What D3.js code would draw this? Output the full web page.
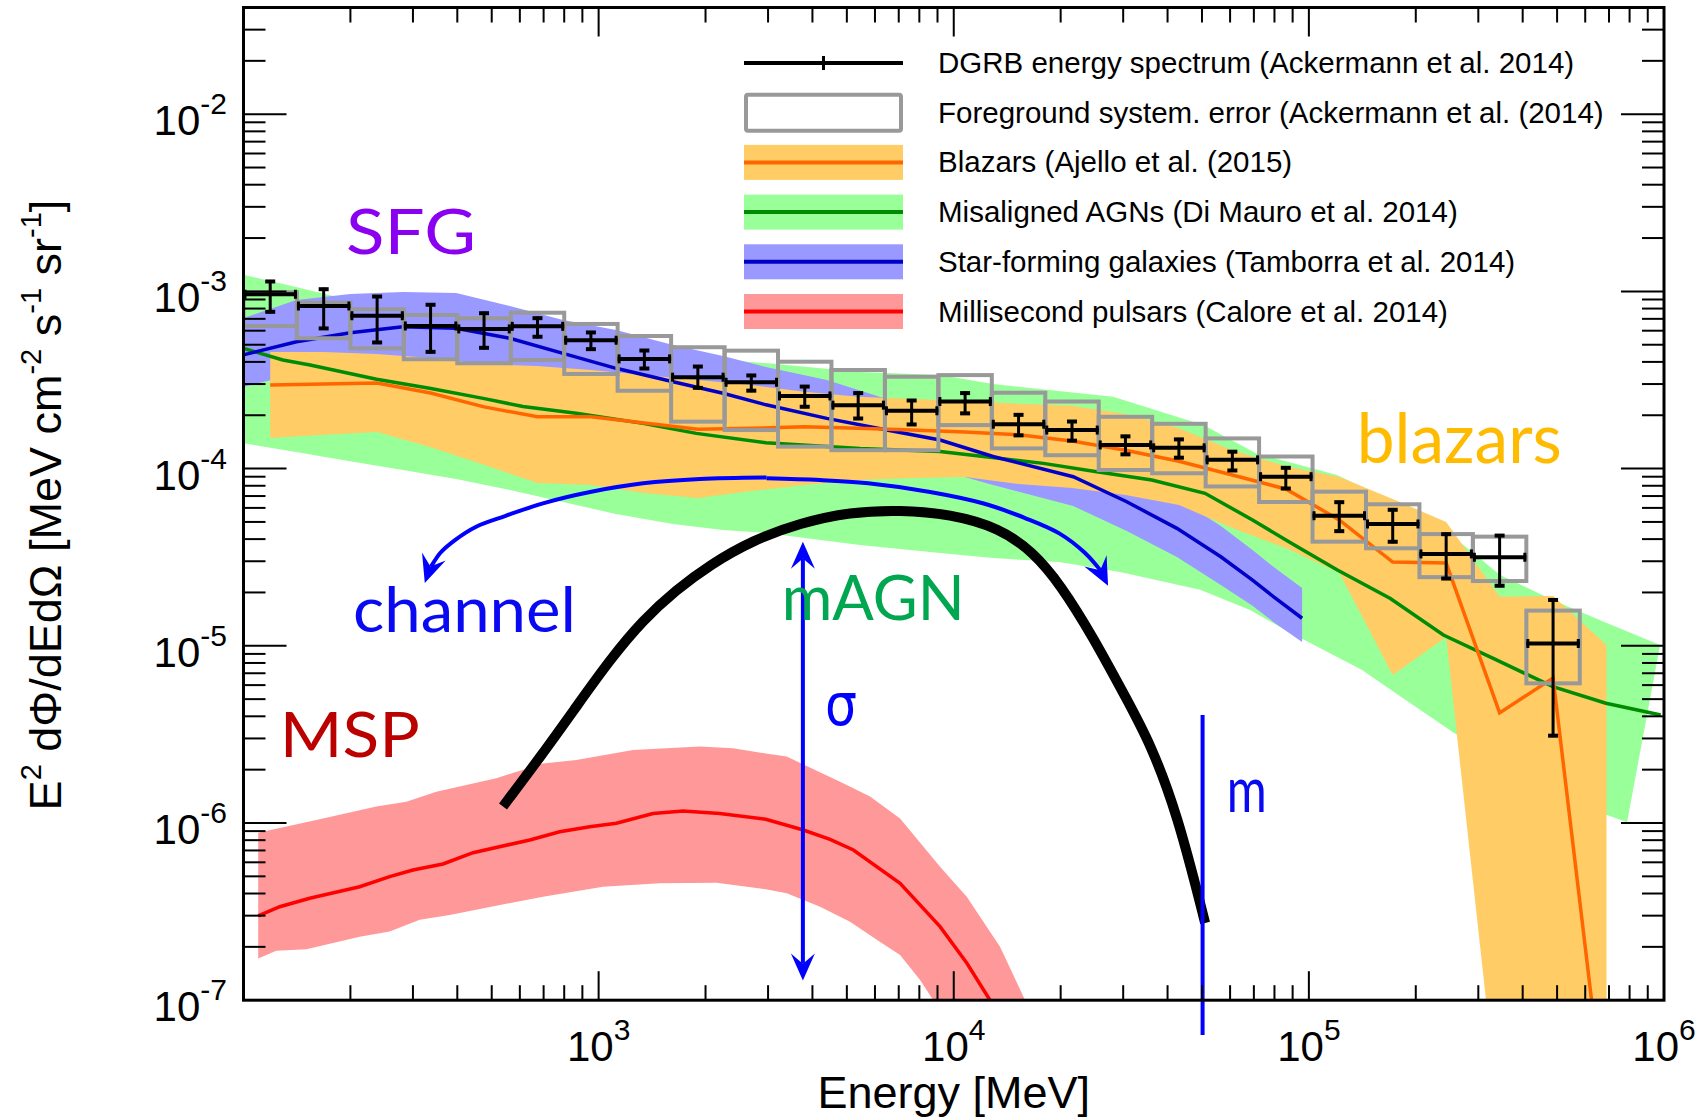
<!DOCTYPE html>
<html><head><meta charset="utf-8">
<script src="https://cdn.jsdelivr.net/npm/d3@7"></script>
<style>
html,body{margin:0;padding:0;background:#fff;}
svg{display:block;}
</style></head><body>
<svg id="chart" width="1704" height="1120"></svg>
<script>
// ---------- DGRB measurement (energy bins in MeV, intensities in MeV cm^-2 s^-1 sr^-1) ----------
const binEdges = [100, 141.4, 200, 282.8, 400, 565.7, 800, 1131, 1600, 2263, 3200, 4525, 6400, 9051,
  12800, 18102, 25600, 36204, 51200, 72408, 102400, 144815, 204800, 289631, 409600, 579262];
const dgrb   = [9.63e-4, 8.27e-4, 7.29e-4, 6.38e-4, 6.14e-4, 6.35e-4, 5.30e-4, 4.16e-4, 3.28e-4, 3.07e-4,
  2.57e-4, 2.28e-4, 2.12e-4, 2.39e-4, 1.78e-4, 1.65e-4, 1.36e-4, 1.31e-4, 1.12e-4, 9.00e-5,
  5.42e-5, 4.87e-5, 3.30e-5, 3.16e-5, 1.03e-5];
const dgrbHi = [1.16e-3, 1.049e-3, 9.54e-4, 8.57e-4, 7.68e-4, 7.20e-4, 5.98e-4, 4.73e-4, 3.84e-4, 3.42e-4,
  2.96e-4, 2.72e-4, 2.47e-4, 2.72e-4, 2.05e-4, 1.88e-4, 1.55e-4, 1.49e-4, 1.27e-4, 1.03e-4,
  6.59e-5, 5.97e-5, 4.35e-5, 4.27e-5, 1.85e-5];
const dgrbLo = [7.52e-4, 6.06e-4, 5.05e-4, 4.47e-4, 4.71e-4, 5.44e-4, 4.63e-4, 3.60e-4, 2.80e-4, 2.70e-4,
  2.19e-4, 1.88e-4, 1.74e-4, 2.01e-4, 1.51e-4, 1.41e-4, 1.18e-4, 1.13e-4, 9.57e-5, 7.57e-5,
  4.35e-5, 3.79e-5, 2.35e-5, 2.14e-5, 3.05e-6];
// foreground systematic envelope
const sysHi = [9.88e-4, 8.63e-4, 7.93e-4, 7.36e-4, 7.05e-4, 7.58e-4, 6.55e-4, 5.60e-4, 4.84e-4, 4.63e-4,
  4.01e-4, 3.60e-4, 3.30e-4, 3.37e-4, 2.68e-4, 2.39e-4, 1.96e-4, 1.79e-4, 1.48e-4, 1.17e-4,
  7.41e-5, 6.29e-5, 4.27e-5, 4.13e-5, 1.58e-5];
const sysLo = [6.38e-4, 5.44e-4, 4.77e-4, 4.14e-4, 3.93e-4, 4.10e-4, 3.42e-4, 2.75e-4, 1.84e-4, 1.65e-4,
  1.33e-4, 1.27e-4, 1.27e-4, 1.76e-4, 1.30e-4, 1.19e-4, 9.82e-5, 9.41e-5, 7.93e-5, 6.48e-5,
  3.87e-5, 3.55e-5, 2.44e-5, 2.32e-5, 6.14e-6];

// ---------- Blazars ----------
const blazarE  = [118.9, 168.2, 237.8, 336.4, 475.7, 672.7, 951.4, 1345, 1903, 2691, 3805, 5382, 7611,
  10764, 15222, 21527, 30444, 43054, 60888, 86108, 121776, 172216, 243551, 344432, 487103, 688862];
const blazar   = [2.96e-4, 3.00e-4, 3.04e-4, 2.67e-4, 2.23e-4, 1.96e-4, 1.96e-4, 1.81e-4, 1.67e-4, 1.69e-4,
  1.72e-4, 1.69e-4, 1.65e-4, 1.61e-4, 1.55e-4, 1.43e-4, 1.27e-4, 1.10e-4, 9.20e-5, 7.67e-5,
  5.13e-5, 2.97e-5, 2.93e-5, 4.18e-6, 6.58e-6, 1.98e-8];
const blazarHi = [4.55e-4, 4.55e-4, 4.43e-4, 4.21e-4, 3.89e-4, 3.79e-4, 3.60e-4, 3.37e-4, 3.16e-4, 2.96e-4,
  2.71e-4, 2.54e-4, 2.47e-4, 2.41e-4, 2.32e-4, 2.26e-4, 2.03e-4, 1.69e-4, 1.27e-4, 1.03e-4,
  8.97e-5, 6.74e-5, 5.00e-5, 1.89e-5, 1.91e-5, 1.01e-5];
const blazarLo = [1.49e-4, 1.55e-4, 1.61e-4, 1.32e-4, 1.05e-4, 8.29e-5, 8.08e-5, 7.28e-5, 6.83e-5, 7.47e-5,
  8.08e-5, 8.62e-5, 8.85e-5, 8.97e-5, 8.19e-5, 7.77e-5, 7.10e-5, 6.23e-5, 4.62e-5, 3.56e-5,
  2.58e-5, 6.84e-6, 1.12e-5, 2.0e-8, 1.0e-8, 1.0e-8];

// ---------- Misaligned AGNs ----------
const agnE  = [100, 129, 154, 237, 334, 473, 612, 865, 1334, 1884, 2955, 5446, 9150, 17880, 25270, 36100,
  51000, 69400, 89300, 120300, 169600, 239200, 337300, 486600, 686200, 979000];
const agn   = [4.77e-4, 4.10e-4, 3.84e-4, 3.19e-4, 2.84e-4, 2.49e-4, 2.24e-4, 2.05e-4, 1.80e-4, 1.58e-4,
  1.40e-4, 1.30e-4, 1.25e-4, 1.07e-4, 9.60e-5, 8.62e-5, 7.25e-5, 5.13e-5, 3.79e-5, 2.68e-5,
  1.85e-5, 1.15e-5, 8.32e-6, 5.88e-6, 4.74e-6, 4.07e-6];
const agnHiE = [100, 140.5, 199.5, 281, 397, 563, 794, 1119, 1620, 2240, 2960, 5446, 9150, 12900, 28100,
  50400, 71000, 120000, 169300, 241800, 345500, 487500, 687300, 975000];
const agnHi  = [1.24e-3, 1.06e-3, 8.94e-4, 7.85e-4, 6.90e-4, 6.06e-4, 5.32e-4, 4.79e-4, 4.38e-4, 4.10e-4,
  3.94e-4, 3.51e-4, 3.37e-4, 3.00e-4, 2.54e-4, 1.76e-4, 1.22e-4, 9.20e-5, 6.65e-5, 4.50e-5,
  2.51e-5, 1.81e-5, 1.35e-5, 1.01e-5];
const agnLoE = [100, 140.5, 199.5, 281, 397, 563, 794, 1119, 1620, 2240, 2960, 5446, 9150, 12900, 19800,
  29400, 49400, 68300, 89100, 141200, 170400, 256400, 396000, 580200, 787000];
const agnLo  = [1.39e-4, 1.24e-4, 1.10e-4, 9.82e-5, 8.74e-5, 7.57e-5, 6.48e-5, 5.54e-5, 4.87e-5, 4.50e-5,
  4.33e-5, 3.71e-5, 3.34e-5, 3.13e-5, 2.97e-5, 2.61e-5, 2.07e-5, 1.59e-5, 1.18e-5, 7.30e-6,
  5.63e-6, 3.22e-6, 1.94e-6, 1.26e-6, 1.01e-6];

// ---------- Star-forming galaxies ----------
const sfgE  = [100, 141, 200, 281, 397, 562, 794, 1120, 1620, 2240, 2960, 4390, 6480, 9150, 12900, 21700,
  30700, 42500, 56500, 69400, 79600, 95700];
const sfg   = [4.38e-4, 5.20e-4, 5.85e-4, 6.32e-4, 6.19e-4, 5.44e-4, 4.47e-4, 3.68e-4, 3.09e-4, 2.66e-4,
  2.29e-4, 1.92e-4, 1.65e-4, 1.45e-4, 1.17e-4, 9.0e-5, 6.5e-5, 4.6e-5, 3.18e-5, 2.35e-5, 1.89e-5, 1.43e-5];
const sfgHi = [7.08e-4, 8.94e-4, 9.67e-4, 9.92e-4, 9.80e-4, 8.27e-4, 6.90e-4, 6.06e-4, 4.98e-4, 4.32e-4,
  3.74e-4, 3.16e-4, 2.47e-4, 2.17e-4, 1.74e-4, 1.34e-4, 9.69e-5, 6.83e-5, 4.74e-5, 3.47e-5, 2.78e-5, 2.12e-5];
const sfgLo = [2.89e-4, 3.43e-4, 3.86e-4, 4.17e-4, 4.09e-4, 3.59e-4, 2.95e-4, 2.43e-4, 2.04e-4, 1.76e-4,
  1.51e-4, 1.27e-4, 1.10e-4, 9.82e-5, 8.08e-5, 6.15e-5, 4.44e-5, 3.17e-5, 2.20e-5, 1.68e-5, 1.36e-5, 1.05e-5];

// ---------- Millisecond pulsars ----------
const mspE  = [110, 126.5, 153.6, 212.4, 258, 300, 364.6, 443, 640, 777, 944, 1122, 1423, 1729, 2193, 2955,
  3771, 4484, 5217, 7061, 9150, 10880, 12650, 14330];
const msp   = [2.99e-7, 3.37e-7, 3.76e-7, 4.37e-7, 4.98e-7, 5.43e-7, 5.87e-7, 6.80e-7, 8.02e-7, 8.93e-7,
  9.53e-7, 9.96e-7, 1.13e-6, 1.17e-6, 1.13e-6, 1.05e-6, 9.13e-7, 8.09e-7, 7.04e-7, 4.57e-7,
  2.60e-7, 1.62e-7, 1.0e-7, 6.4e-8];
const mspHiE = [110, 160.3, 236.6, 287.3, 349.1, 515.1, 697.3, 865.2, 1250, 1926, 2390, 2955, 3386, 4784,
  5812, 7061, 9150, 10880, 13500, 15880, 17500];
const mspHi  = [8.82e-7, 1.04e-6, 1.24e-6, 1.32e-6, 1.50e-6, 1.79e-6, 2.17e-6, 2.27e-6, 2.58e-6, 2.70e-6,
  2.64e-6, 2.47e-6, 2.37e-6, 1.71e-6, 1.41e-6, 1.06e-6, 5.67e-7, 3.84e-7, 2.00e-7, 1.0e-7, 6.8e-8];
const mspLoE = [110, 123.7, 150.3, 212.4, 258, 313.5, 380.8, 697.3, 1029, 1486, 2146, 2955, 3386, 4203,
  5105, 6070, 7061, 8038, 8760, 9450];
const mspLo  = [1.72e-7, 1.90e-7, 1.94e-7, 2.28e-7, 2.44e-7, 2.84e-7, 3.03e-7, 3.84e-7, 4.37e-7, 4.57e-7,
  4.60e-7, 4.23e-7, 4.01e-7, 3.37e-7, 2.77e-7, 2.19e-7, 1.80e-7, 1.30e-7, 1.0e-7, 7.7e-8];

// ---------- illustrative dark-matter spectrum and its knobs ----------
const dmE = [538, 697, 865, 1075, 1334, 1655, 2055, 2721, 3691, 5105, 7061, 9763, 13500, 16730, 19930,
  24690, 30770, 35710, 42550, 51030];
const dm  = [1.24e-6, 2.47e-6, 4.53e-6, 8.32e-6, 1.40e-5, 2.07e-5, 2.86e-5, 3.95e-5, 4.93e-5, 5.69e-5,
  5.84e-5, 5.54e-5, 4.62e-5, 3.38e-5, 2.23e-5, 1.12e-5, 4.94e-6, 2.83e-6, 1.14e-6, 2.73e-7];
const channelLeftE  = [2970, 1930, 1334, 946, 697, 545, 452, 394, 358, 335, 324];
const channelLeft   = [8.91e-5, 8.74e-5, 8.26e-5, 7.38e-5, 6.37e-5, 5.40e-5, 4.70e-5, 3.95e-5, 3.34e-5, 2.75e-5, 2.26e-5];
const channelRightE = [2970, 4203, 5738, 8578, 12070, 15880, 19820, 23430, 25820, 27200];
const channelRight  = [8.82e-5, 8.62e-5, 8.26e-5, 7.38e-5, 6.37e-5, 5.26e-5, 4.31e-5, 3.34e-5, 2.68e-5, 2.18e-5];
const sigmaE = 3760, sigmaRange = [1.29e-7, 3.87e-5];
const massE = 50200, massRange = [6.36e-8, 4.07e-6];

// ---------- axis ticks and texts ----------
const xTickLabels = [1e3, 1e4, 1e5, 1e6];
const yTickLabels = [1e-7, 1e-6, 1e-5, 1e-4, 1e-3, 1e-2];
const legendLabels = [
  "DGRB energy spectrum (Ackermann et al. 2014)",
  "Foreground system. error (Ackermann et al. (2014)",
  "Blazars (Ajello et al. (2015)",
  "Misaligned AGNs (Di Mauro et al. 2014)",
  "Star-forming galaxies (Tamborra et al. 2014)",
  "Millisecond pulsars (Calore et al. 2014)"
];
const tags = [
  {text: "SFG",     E: 194.4,  v: 1.63e-3, color: "#8a00f0", size: 61, len: 130},
  {text: "blazars", E: 136400, v: 1.07e-4, color: "#ffbb00", size: 70, len: 205},
  {text: "channel", E: 203.4,  v: 1.20e-5, color: "#0a0af2", size: 62, len: 223},
  {text: "mAGN",    E: 3279,   v: 1.40e-5, color: "#00a650", size: 62, len: 183},
  {text: "MSP",     E: 126.5,  v: 2.37e-6, color: "#bb0000", size: 62, len: 140},
  {text: "m",       E: 58730,  v: 1.16e-6, color: "#0a0af2", size: 62, len: 40}
];

// ---------- colours ----------
const C = {
  blazBand: "#ffcc66", blazLine: "#ff6600",
  agnBand: "#99ff99",  agnLine: "#008c00",
  sfgBand: "#9999ff",  sfgLine: "#0000c8",
  mspBand: "#ff9999",  mspLine: "#ff0000",
  box: "#999999", annot: "#0000ff"
};
const FONT = '"Liberation Sans", Arial, Helvetica, sans-serif';

// ---------- layout ----------
const M = {left: 243.5, right: 1664, top: 7.5, bottom: 1000.2};
const x = d3.scaleLog().domain([100, 1e6]).range([M.left, M.right]);
const y = d3.scaleLog().domain([1e-7, 4e-2]).range([M.bottom, M.top]);

const svg = d3.select("#chart");
svg.append("rect").attr("width", 1704).attr("height", 1120).attr("fill", "#fff");
svg.append("defs").append("clipPath").attr("id", "plotArea")
  .append("rect").attr("x", M.left).attr("y", M.top)
  .attr("width", M.right - M.left).attr("height", M.bottom - M.top);
const plot = svg.append("g").attr("clip-path", "url(#plotArea)");

const lineGen = d3.line();
function bandPath(eHi, hi, eLo, lo) {
  const top = eHi.map((e, i) => [x(e), y(hi[i])]);
  const bot = eLo.map((e, i) => [x(e), y(lo[i])]).reverse();
  return lineGen(top.concat(bot)) + "Z";
}
function curvePath(es, vs) { return lineGen(es.map((e, i) => [x(e), y(vs[i])])); }

// bands (back to front)
plot.append("path").attr("d", bandPath(agnHiE, agnHi, agnLoE, agnLo)).attr("fill", C.agnBand);
plot.append("path").attr("d", bandPath(sfgE, sfgHi, sfgE, sfgLo)).attr("fill", C.sfgBand);
plot.append("path").attr("d", bandPath(blazarE, blazarHi, blazarE, blazarLo)).attr("fill", C.blazBand);
plot.append("path").attr("d", bandPath(mspHiE, mspHi, mspLoE, mspLo)).attr("fill", C.mspBand);

// central model lines
const lw = 3.5;
plot.append("path").attr("d", curvePath(agnE, agn)).attr("fill", "none").attr("stroke", C.agnLine).attr("stroke-width", lw);
plot.append("path").attr("d", curvePath(sfgE, sfg)).attr("fill", "none").attr("stroke", C.sfgLine).attr("stroke-width", lw);
plot.append("path").attr("d", curvePath(blazarE, blazar)).attr("fill", "none").attr("stroke", C.blazLine).attr("stroke-width", lw);
plot.append("path").attr("d", curvePath(mspE, msp)).attr("fill", "none").attr("stroke", C.mspLine).attr("stroke-width", lw);

// DGRB points, systematic boxes, error bars
const rows = dgrb.map((v, i) => ({
  lo: binEdges[i], hi: binEdges[i + 1], c: Math.sqrt(binEdges[i] * binEdges[i + 1]),
  v, eLo: dgrbLo[i], eHi: dgrbHi[i], sLo: sysLo[i], sHi: sysHi[i]
}));
plot.append("g").selectAll("rect").data(rows).join("rect")
  .attr("x", d => x(d.lo)).attr("width", d => x(d.hi) - x(d.lo))
  .attr("y", d => y(d.sHi)).attr("height", d => y(d.sLo) - y(d.sHi))
  .attr("fill", "none").attr("stroke", C.box).attr("stroke-width", 4);

const pts = plot.append("g").attr("stroke", "#000");
rows.forEach(d => {
  const cx = x(d.c), cy = y(d.v), x0 = x(d.lo), x1 = x(d.hi);
  pts.append("line").attr("x1", x0).attr("x2", x1).attr("y1", cy).attr("y2", cy).attr("stroke-width", 4);
  pts.append("line").attr("x1", x0 + 1.5).attr("x2", x0 + 1.5).attr("y1", cy - 4.5).attr("y2", cy + 4.5).attr("stroke-width", 3);
  pts.append("line").attr("x1", x1 - 1.5).attr("x2", x1 - 1.5).attr("y1", cy - 4.5).attr("y2", cy + 4.5).attr("stroke-width", 3);
  const ya = y(d.eHi), yb = y(d.eLo);
  pts.append("line").attr("x1", cx).attr("x2", cx).attr("y1", ya).attr("y2", yb).attr("stroke-width", 3);
  pts.append("line").attr("x1", cx - 5).attr("x2", cx + 5).attr("y1", ya + 1.5).attr("y2", ya + 1.5).attr("stroke-width", 4);
  pts.append("line").attr("x1", cx - 5).attr("x2", cx + 5).attr("y1", yb - 1.5).attr("y2", yb - 1.5).attr("stroke-width", 4);
});

// dark-matter spectrum (smoothed through the sampled points)
plot.append("path")
  .attr("d", d3.line().curve(d3.curveBasis)(dmE.map((e, i) => [x(e), y(dm[i])])))
  .attr("fill", "none").attr("stroke", "#000").attr("stroke-width", 10).attr("stroke-linecap", "butt");

// annotation arrows
const ann = svg.append("g");
function head(tip, from, L = 27, Wd = 24) {
  const dx = tip[0] - from[0], dy = tip[1] - from[1], n = Math.hypot(dx, dy);
  const ux = dx / n, uy = dy / n, px = -uy, py = ux;
  const bx = tip[0] - ux * L, by = tip[1] - uy * L;
  const nx = tip[0] - ux * L * 0.62, ny = tip[1] - uy * L * 0.62;
  ann.append("path")
    .attr("d", `M${tip[0]},${tip[1]}L${bx + px * Wd / 2},${by + py * Wd / 2}L${nx},${ny}L${bx - px * Wd / 2},${by - py * Wd / 2}Z`)
    .attr("fill", C.annot);
  return [nx, ny];
}
function arc(es, vs) {
  const p = es.map((e, i) => [x(e), y(vs[i])]);
  const tip = p[p.length - 1], prev = p[p.length - 2];
  const notch = head(tip, prev, 28, 25);
  const path = p.slice(0, -1).concat([notch]);
  ann.append("path").attr("d", d3.line().curve(d3.curveCatmullRom.alpha(0.5))(path))
    .attr("fill", "none").attr("stroke", C.annot).attr("stroke-width", 4);
}
arc(channelLeftE, channelLeft);
arc(channelRightE, channelRight);

// sigma double arrow
{
  const sx = x(sigmaE), top = [sx, y(sigmaRange[1])], bot = [sx, y(sigmaRange[0])];
  const n1 = head(top, [sx, top[1] + 50]);
  const n2 = head(bot, [sx, bot[1] - 50]);
  ann.append("line").attr("x1", sx).attr("x2", sx).attr("y1", n1[1]).attr("y2", n2[1])
    .attr("stroke", C.annot).attr("stroke-width", 4);
}
// mass marker
ann.append("line").attr("x1", x(massE)).attr("x2", x(massE))
  .attr("y1", y(massRange[1])).attr("y2", y(massRange[0]))
  .attr("stroke", C.annot).attr("stroke-width", 4);

// labels inside the plot
svg.append("g").selectAll("text").data(tags).join("text")
  .attr("x", d => x(d.E)).attr("y", d => y(d.v))
  .attr("fill", d => d.color).attr("font-family", "Lato, 'Open Sans', sans-serif")
  .attr("font-size", d => d.size).attr("textLength", d => d.len).attr("lengthAdjust", "spacingAndGlyphs")
  .text(d => d.text);
svg.append("text").attr("x", x(4341)).attr("y", y(3.57e-6))
  .attr("fill", C.annot).attr("font-family", "'DejaVu Sans', sans-serif").attr("font-size", 58)
  .attr("textLength", 32).attr("lengthAdjust", "spacingAndGlyphs").text("σ");

// frame and ticks
const axes = svg.append("g").attr("stroke", "#000");
const isMajor = v => Math.abs(Math.log10(v) - Math.round(Math.log10(v))) < 1e-6;
x.ticks().filter(v => v > 100 * 1.001 && v < 1e6 * 0.999).forEach(v => {
  const px = x(v), L = isMajor(v) ? 29 : 15;
  axes.append("line").attr("x1", px).attr("x2", px).attr("y1", M.bottom).attr("y2", M.bottom - L).attr("stroke-width", 2);
  axes.append("line").attr("x1", px).attr("x2", px).attr("y1", M.top).attr("y2", M.top + L).attr("stroke-width", 2);
});
y.ticks().filter(v => v > 1e-7 * 1.001 && v < 4e-2 * 0.999).forEach(v => {
  const py = y(v), L = isMajor(v) ? 43 : 22;
  axes.append("line").attr("x1", M.left).attr("x2", M.left + L).attr("y1", py).attr("y2", py).attr("stroke-width", 2);
  axes.append("line").attr("x1", M.right).attr("x2", M.right - L).attr("y1", py).attr("y2", py).attr("stroke-width", 2);
});
axes.append("rect").attr("x", M.left).attr("y", M.top)
  .attr("width", M.right - M.left).attr("height", M.bottom - M.top)
  .attr("fill", "none").attr("stroke-width", 3);

// tick labels
const lab = svg.append("g").attr("font-family", FONT).attr("fill", "#000");
xTickLabels.forEach(v => {
  const t = lab.append("text").attr("x", x(v)).attr("y", 1061).attr("text-anchor", "middle").attr("font-size", 42);
  t.append("tspan").text("10");
  t.append("tspan").attr("dy", -21).attr("font-size", 30).text(Math.round(Math.log10(v)));
});
yTickLabels.forEach(v => {
  const t = lab.append("text").attr("x", 227).attr("y", y(v) + 21).attr("text-anchor", "end").attr("font-size", 42);
  t.append("tspan").text("10");
  t.append("tspan").attr("dy", -21).attr("font-size", 30).text("-" + Math.abs(Math.round(Math.log10(v))));
});

// axis titles
lab.append("text").attr("x", (M.left + M.right) / 2).attr("y", 1108).attr("text-anchor", "middle")
  .attr("font-size", 45).text("Energy [MeV]");
{
  const t = lab.append("text").attr("transform", "translate(61,505) rotate(-90)")
    .attr("text-anchor", "middle").attr("font-size", 45);
  const sup = (s) => { t.append("tspan").attr("dy", -20).attr("font-size", 29).text(s); };
  const txt = (s) => { t.append("tspan").attr("dy", 20).text(s); };
  t.append("tspan").text("E");
  sup("2"); txt(" dΦ/dEdΩ [MeV cm");
  sup("-2"); txt(" s");
  sup("-1"); txt(" sr");
  sup("-1"); txt("]");
}

// legend
const leg = svg.append("g");
const lx0 = 744, lx1 = 903, ly0 = 63, lstep = 49.7, bandH = 35;
const legBands = [
  {fill: C.blazBand, line: C.blazLine},
  {fill: C.agnBand, line: C.agnLine},
  {fill: C.sfgBand, line: C.sfgLine},
  {fill: C.mspBand, line: C.mspLine}
];
leg.append("line").attr("x1", lx0).attr("x2", lx1).attr("y1", ly0).attr("y2", ly0).attr("stroke", "#000").attr("stroke-width", 4);
leg.append("line").attr("x1", (lx0 + lx1) / 2).attr("x2", (lx0 + lx1) / 2).attr("y1", ly0 - 7).attr("y2", ly0 + 7).attr("stroke", "#000").attr("stroke-width", 3);
leg.append("rect").attr("x", lx0 + 2).attr("y", ly0 + lstep - 18).attr("width", lx1 - lx0 - 4).attr("height", 36)
  .attr("rx", 2).attr("fill", "none").attr("stroke", C.box).attr("stroke-width", 4);
legBands.forEach((b, i) => {
  const cy = ly0 + lstep * (i + 2);
  leg.append("rect").attr("x", lx0).attr("y", cy - bandH / 2).attr("width", lx1 - lx0).attr("height", bandH).attr("fill", b.fill);
  leg.append("line").attr("x1", lx0).attr("x2", lx1).attr("y1", cy).attr("y2", cy).attr("stroke", b.line).attr("stroke-width", 4);
});
leg.selectAll("text").data(legendLabels).join("text")
  .attr("x", 938).attr("y", (d, i) => ly0 + lstep * i + 10)
  .attr("font-family", FONT).attr("font-size", 29.5).attr("fill", "#000")
  .text(d => d);
</script>
</body></html>
